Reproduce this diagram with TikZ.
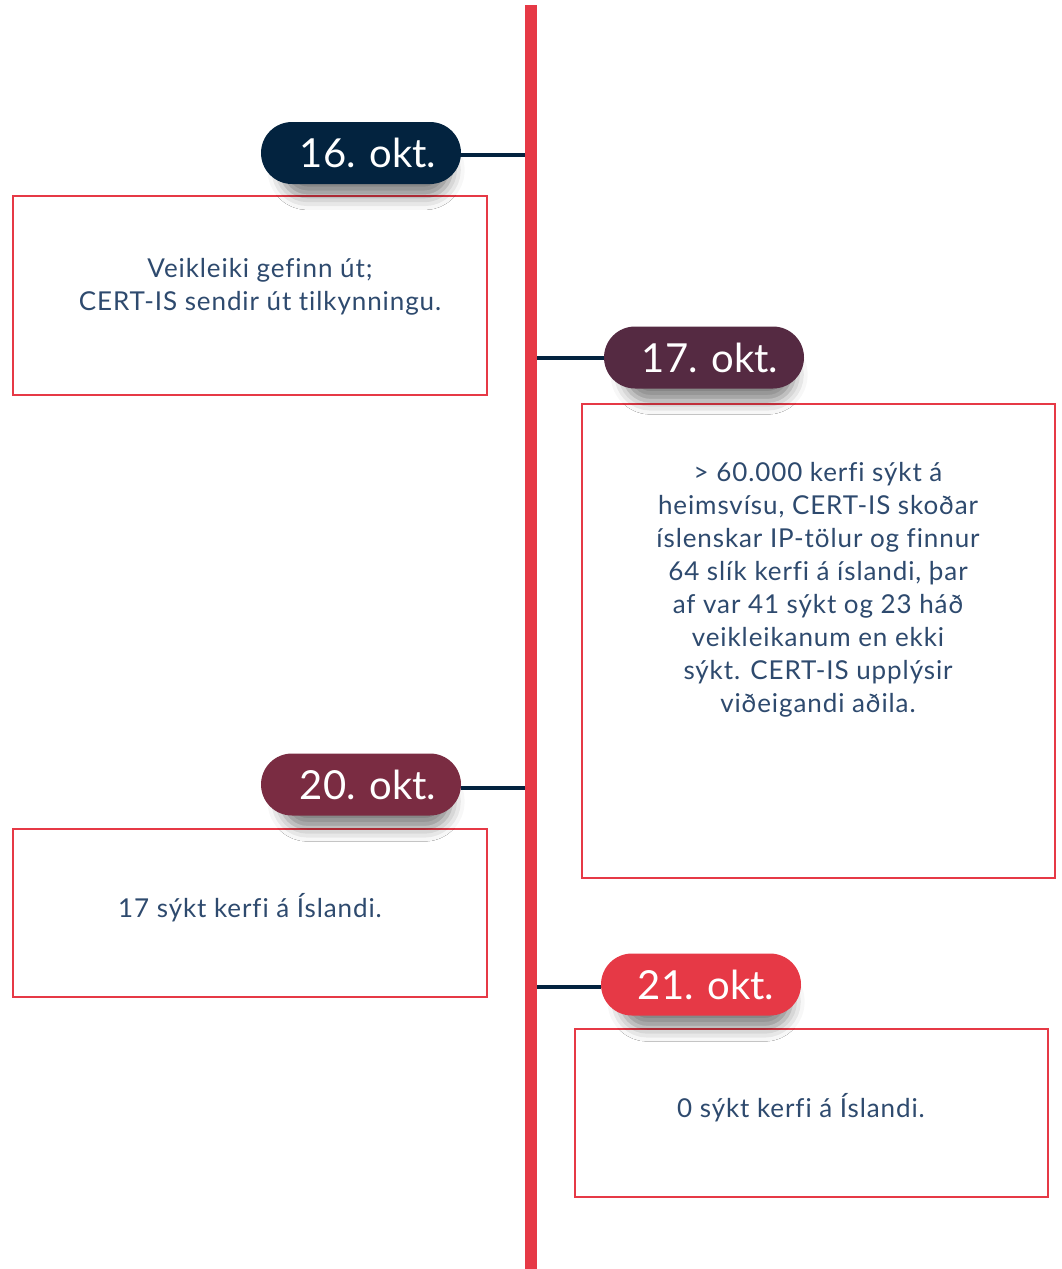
\documentclass[tikz,border=0pt]{standalone}
\usepackage{fontspec}
\setmainfont{Lato}
\newfontfamily\bodyfont[LetterSpace=3.5,Ligatures=NoCommon]{Lato}
\usetikzlibrary{shadows.blur}
\definecolor{navy}{HTML}{03233F}
\definecolor{plum}{HTML}{552A42}
\definecolor{wine}{HTML}{7A2C42}
\definecolor{redc}{HTML}{E63946}
\definecolor{txt}{HTML}{2E4A6E}
\tikzset{
  pill/.style={rectangle, rounded corners=31pt, minimum width=200pt, minimum height=62pt, inner sep=0pt,
    blur shadow={shadow xshift=6pt, shadow yshift=-20pt, shadow scale=0.85, shadow blur radius=16pt, shadow opacity=50}},
  pilltext/.style={text=white, font=\fontsize{40}{48}\selectfont, inner sep=0pt},
  box/.style={draw=redc, line width=1.5pt, fill=white, inner sep=0pt},
  bodytext/.style={text=txt, font=\bodyfont\fontsize{26}{33}\selectfont, align=center, inner sep=0pt},
  conn/.style={draw=navy, line width=4pt},
}
\begin{document}
\begin{tikzpicture}[x=1pt,y=-1pt]
\useasboundingbox (0,0) rectangle (1062,1269);
\coordinate (top) at (531,5);
\coordinate (bot) at (531,1269);
% boxes
\node[box, minimum width=474pt, minimum height=199pt] (b16) at (250,295.5) {};
\node[box, minimum width=473pt, minimum height=474pt] (b17) at (818.5,641) {};
\node[box, minimum width=474pt, minimum height=168pt] (b20) at (250,913) {};
\node[box, minimum width=473pt, minimum height=168pt] (b21) at (811.5,1113) {};
% box texts
\node[bodytext] (t16b) at (260,287) {Veikleiki gefinn út;\\CERT-IS sendir út tilkynningu.};
\node[bodytext] (t17b) at (818,590) {> 60.000 kerfi sýkt á\\heimsvísu, CERT-IS skoðar\\íslenskar IP-tölur og finnur\\64 slík kerfi á íslandi, þar\\af var 41 sýkt og 23 háð\\veikleikanum en ekki\\sýkt. CERT-IS upplýsir\\viðeigandi aðila.};
\node[bodytext] (t20b) at (250,908) {17 sýkt kerfi á Íslandi.};
\node[bodytext] (t21b) at (801,1108) {0 sýkt kerfi á Íslandi.};
% pills
\node[pill, fill=navy] (p16) at (361,153) {};
\node[pill, fill=plum] (p17) at (704,357.5) {};
\node[pill, fill=wine] (p20) at (361,784.5) {};
\node[pill, fill=redc] (p21) at (701,984.5) {};
\node[pilltext] (t16) at (368,153) {16. okt.};
\node[pilltext] (t17) at (710,357.5) {17. okt.};
\node[pilltext] (t20) at (368,784.5) {20. okt.};
\node[pilltext] (t21) at (706,984.5) {21. okt.};
% connectors
\draw[conn] ([yshift=-2pt]p16.east) -- ([yshift=-2pt]p16.east -| top);
\draw[conn] (p17.west) -- (p17.west -| top);
\draw[conn] ([yshift=-3pt]p20.east) -- ([yshift=-3pt]p20.east -| top);
\draw[conn] ([yshift=-2.5pt]p21.west) -- ([yshift=-2.5pt]p21.west -| top);
% timeline
\draw[redc, line width=12pt] (top) -- (bot);
\end{tikzpicture}
\end{document}
